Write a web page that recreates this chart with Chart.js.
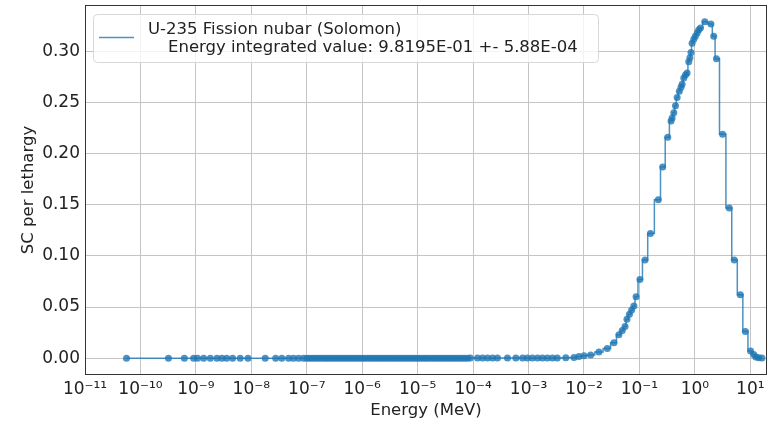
<!DOCTYPE html>
<html>
<head>
<meta charset="utf-8">
<script src="https://cdn.jsdelivr.net/npm/chart.js@4.4.1/dist/chart.umd.min.js"></script>
<style>
  body { margin: 0; background: #fff; }
  #wrap { width: 779px; height: 423px; }
</style>
</head>
<body>
<div id="wrap"><canvas id="myChart" width="779" height="423"></canvas></div>
<script>
// energy bins (MeV)
var thermalEnergy = [5.6e-11, 3.2e-10, 6.2e-10, 9.1e-10, 1.07e-9, 1.38e-9, 1.82e-9, 2.4e-9, 2.95e-9, 3.6e-9,
  4.6e-9, 6.3e-9, 8.7e-9, 1.78e-8, 2.75e-8, 3.55e-8, 4.7e-8, 5.75e-8, 7.1e-8, 8.7e-8];
var thermalValue = [0, 0, 0, 0, 0, 0, 0, 0, 0, 0,
  0, 0, 0, 0, 0, 0, 0, 0, 0, 0];

var epithermalEnergy = [
  1.0e-7, 1.12e-7, 1.26e-7, 1.41e-7, 1.58e-7, 1.78e-7, 2.0e-7, 2.24e-7, 2.51e-7, 2.82e-7,
  3.16e-7, 3.55e-7, 3.98e-7, 4.47e-7, 5.01e-7, 5.62e-7, 6.31e-7, 7.08e-7, 7.94e-7, 8.91e-7,
  1.0e-6, 1.12e-6, 1.26e-6, 1.41e-6, 1.58e-6, 1.78e-6, 2.0e-6, 2.24e-6, 2.51e-6, 2.82e-6,
  3.16e-6, 3.55e-6, 3.98e-6, 4.47e-6, 5.01e-6, 5.62e-6, 6.31e-6, 7.08e-6, 7.94e-6, 8.91e-6,
  1.0e-5, 1.12e-5, 1.26e-5, 1.41e-5, 1.58e-5, 1.78e-5, 2.0e-5, 2.24e-5, 2.51e-5, 2.82e-5,
  3.16e-5, 3.55e-5, 3.98e-5, 4.47e-5, 5.01e-5, 5.62e-5, 6.31e-5, 7.08e-5, 7.94e-5, 8.91e-5];
var epithermalValue = [
  0, 0, 0, 0, 0, 0, 0, 0, 0, 0,
  0, 0, 0, 0, 0, 0, 0, 0, 0, 0,
  0, 0, 0, 0, 0, 0, 0, 0, 0, 0,
  0, 0, 0, 0, 0, 0, 0, 0, 0, 0,
  0, 0, 0, 0, 0, 0, 0, 0, 0, 0,
  0, 0, 0, 0, 0, 0, 0, 0, 0, 0.0001];

var fastEnergy = [
  1.2e-4, 1.48e-4, 1.82e-4, 2.24e-4, 2.75e-4, 4.17e-4, 5.9e-4, 7.8e-4, 9.5e-4, 1.17e-3,
  1.45e-3, 1.78e-3, 2.19e-3, 2.7e-3, 3.3e-3, 4.7e-3, 6.6e-3, 8.1e-3, 1.0e-2, 1.32e-2,
  1.86e-2, 2.63e-2, 3.47e-2, 4.27e-2, 4.9e-2, 5.5e-2, 5.96e-2, 6.6e-2, 7.24e-2, 7.94e-2,
  8.7e-2, 0.102, 0.126, 0.158, 0.219, 0.263, 0.324, 0.372, 0.389, 0.417,
  0.447, 0.479, 0.525, 0.562, 0.589, 0.631, 0.676, 0.724, 0.776, 0.813,
  0.851, 0.891, 0.955, 1.02, 1.10, 1.17, 1.26, 1.51, 1.95, 2.19,
  2.45, 3.16, 4.17, 5.13, 6.61, 8.13, 10.1, 11.5, 12.6, 14.1, 16.2];
var fastValue = [
  0.0002, 0.0002, 0.0002, 0.0002, 0.0002, 0.0002, 0.0002, 0.0002, 0.0002, 0.0002,
  0.0002, 0.0002, 0.0002, 0.0002, 0.0002, 0.0003, 0.0006, 0.0017, 0.0023, 0.0030,
  0.0060, 0.0095, 0.0150, 0.0230, 0.0270, 0.0310, 0.0380, 0.0430, 0.0470, 0.0510,
  0.0600, 0.0770, 0.0960, 0.1220, 0.1550, 0.1870, 0.2160, 0.2320, 0.2350, 0.2400,
  0.2470, 0.2550, 0.2610, 0.2650, 0.2680, 0.2740, 0.2770, 0.2790, 0.2900, 0.2940,
  0.2990, 0.3080, 0.3120, 0.3150, 0.3180, 0.3210, 0.3230, 0.3290, 0.3270, 0.3150,
  0.2930, 0.2190, 0.1470, 0.0960, 0.0620, 0.0260, 0.0070, 0.0036, 0.0010, 0.0003, 0.0001];

var xTickExponents = [-11, -10, -9, -8, -7, -6, -5, -4, -3, -2, -1, 0, 1];
var yTickValues = [0, 0.05, 0.10, 0.15, 0.20, 0.25, 0.30];

var seriesLabel = 'U-235 Fission nubar (Solomon)';
var seriesNote = 'Energy integrated value: 9.8195E-01 +- 5.88E-04';

var energy = thermalEnergy.concat(epithermalEnergy, fastEnergy);
var values = thermalValue.concat(epithermalValue, fastValue);
var points = energy.map(function (e, i) { return { x: e, y: values[i] }; });

var FONT = "'DejaVu Sans', sans-serif";
var sup = { '-': '\u207B', '0': '\u2070', '1': '\u00B9', '2': '\u00B2', '3': '\u00B3', '4': '\u2074',
  '5': '\u2075', '6': '\u2076', '7': '\u2077', '8': '\u2078', '9': '\u2079' };

// matplotlib-like frame + legend box
var framePlugin = {
  id: 'frame',
  afterDraw: function (chart) {
    var ctx = chart.ctx, a = chart.chartArea;
    ctx.save();
    ctx.strokeStyle = '#333';
    ctx.lineWidth = 1;
    ctx.strokeRect(a.left + 0.5, a.top + 0.5, a.right - a.left - 1, a.bottom - a.top - 1);

    // legend
    var bx = 93, by = 14, bw = 505, bh = 48, r = 4;
    ctx.fillStyle = 'rgba(255,255,255,0.8)';
    ctx.strokeStyle = '#d8d8d8';
    ctx.beginPath();
    ctx.roundRect(bx + 0.5, by + 0.5, bw, bh, r);
    ctx.fill();
    ctx.stroke();
    ctx.strokeStyle = 'rgba(31,119,180,0.8)';
    ctx.lineWidth = 1.5;
    ctx.beginPath();
    ctx.moveTo(99, 37.5);
    ctx.lineTo(134, 37.5);
    ctx.stroke();
    ctx.fillStyle = '#222';
    ctx.font = '16.5px ' + FONT;
    ctx.textBaseline = 'middle';
    ctx.fillText(seriesLabel, 148, 30);
    ctx.fillText(seriesNote, 168, 48);
    ctx.restore();
  }
};

var ctx = document.getElementById('myChart').getContext('2d');
var myChart = new Chart(ctx, {
  type: 'line',
  data: {
    datasets: [{
      label: seriesLabel,
      data: points,
      stepped: 'middle',
      borderColor: 'rgba(31,119,180,0.8)',
      backgroundColor: 'rgba(31,119,180,0.8)',
      borderWidth: 1.5,
      pointRadius: 3.5,
      pointBorderWidth: 0,
      pointHoverRadius: 3.5,
      fill: false
    }]
  },
  options: {
    responsive: false,
    animation: false,
    layout: { padding: { top: 5, right: 12, left: 0, bottom: 0 } },
    plugins: {
      legend: { display: false },
      tooltip: { enabled: false }
    },
    scales: {
      x: {
        type: 'logarithmic',
        min: 1e-11,
        max: 20,
        afterBuildTicks: function (scale) {
          scale.ticks = xTickExponents.map(function (p) { return { value: Math.pow(10, p) }; });
        },
        afterFit: function (scale) { scale.height = 48; },
        grid: { color: '#c4c4c4', drawTicks: false },
        border: { display: false },
        ticks: {
          autoSkip: false,
          maxRotation: 0,
          padding: 4,
          color: '#222',
          font: { family: FONT, size: 17 },
          callback: function (v) {
            var p = String(Math.round(Math.log10(v)));
            return '10' + p.split('').map(function (c) { return sup[c]; }).join('');
          }
        },
        title: {
          display: true,
          text: 'Energy (MeV)',
          color: '#222',
          font: { family: FONT, size: 16.5 },
          padding: { top: 0, bottom: 2 }
        }
      },
      y: {
        min: -0.0165,
        max: 0.3455,
        afterBuildTicks: function (scale) {
          scale.ticks = yTickValues.map(function (v) { return { value: v }; });
        },
        afterFit: function (scale) {
          scale.width = 85;
          scale.paddingTop = 0;
          scale.paddingBottom = 0;
        },
        grid: { color: '#c4c4c4', drawTicks: false },
        border: { display: false },
        ticks: {
          padding: 5,
          color: '#222',
          font: { family: FONT, size: 17 },
          callback: function (v) { return v.toFixed(2); }
        },
        title: {
          display: true,
          text: 'SC per lethargy',
          color: '#222',
          font: { family: FONT, size: 16.5 },
          padding: { top: 19, bottom: 0 }
        }
      }
    }
  },
  plugins: [framePlugin]
});
</script>
</body>
</html>
